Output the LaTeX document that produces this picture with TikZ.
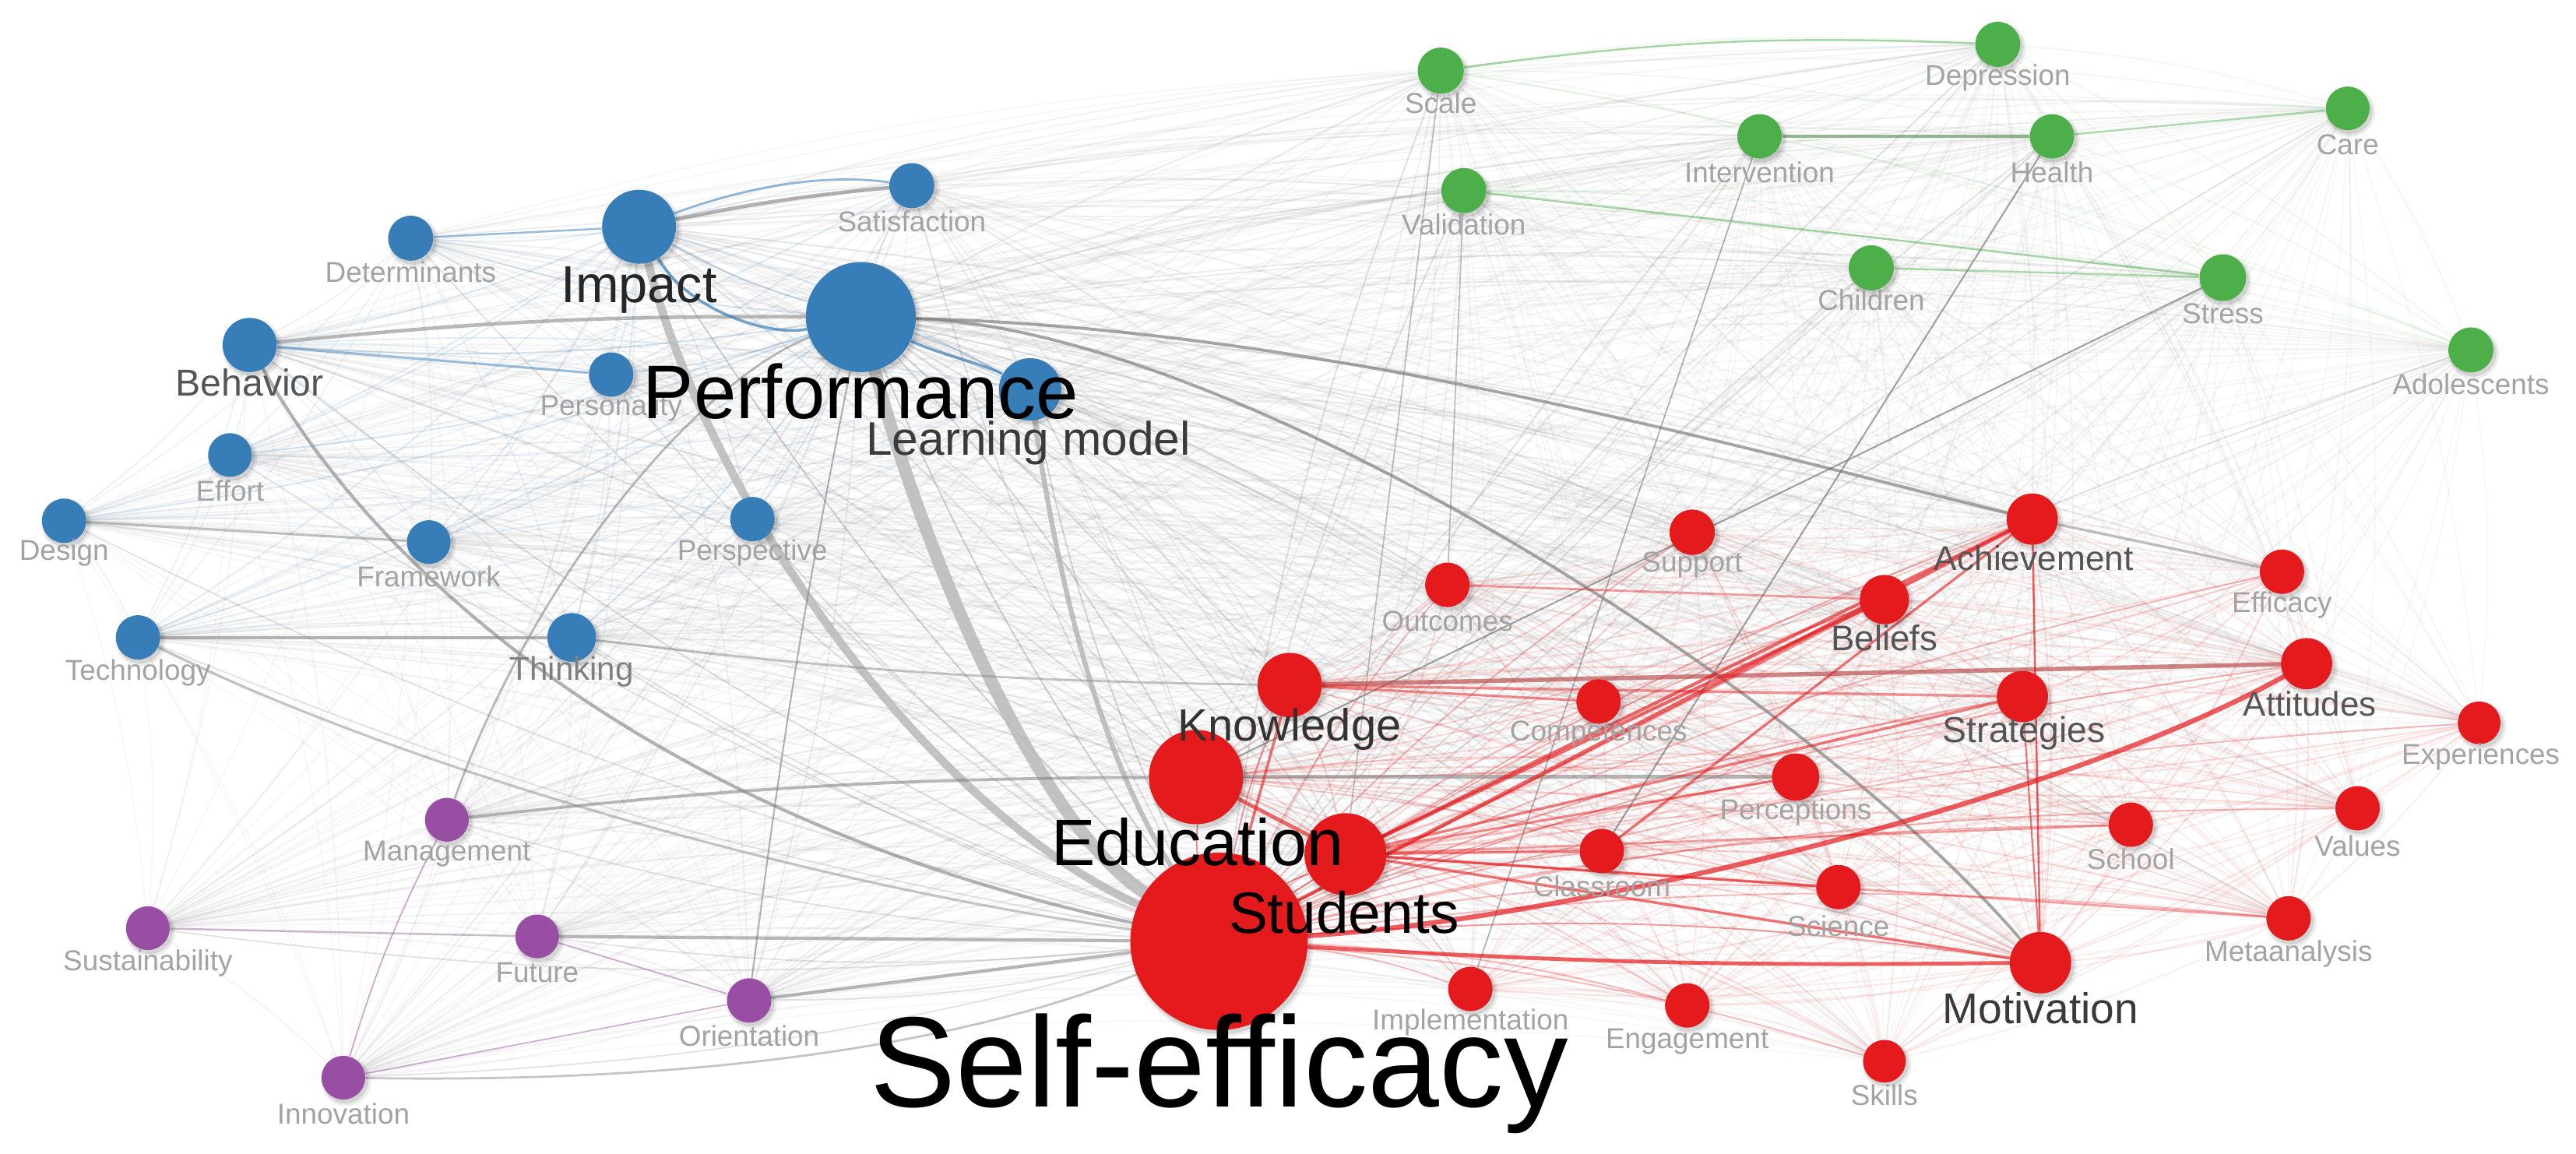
\documentclass[tikz,border=0pt]{standalone}
\usepackage{fontspec}
\setmainfont{Liberation Sans}
\definecolor{cl1}{HTML}{377EB8}
\definecolor{cl2}{HTML}{E41A1C}
\definecolor{cl3}{HTML}{4DAF4A}
\definecolor{cl4}{HTML}{984EA3}
\definecolor{edgegray}{HTML}{8C8C8C}
\definecolor{labgray}{HTML}{A3A3A3}
\definecolor{labmid}{HTML}{555555}
\definecolor{labdark}{HTML}{3A3A3A}
\pgfdeclarelayer{bg}
\pgfdeclarelayer{shadow}
\pgfsetlayers{bg,shadow,main}
\newcommand\kwnode[6]{%
  \node[kw={cl#6}{#5}] (#2) at (#3,#4) {};%
  \begin{pgfonlayer}{shadow}
    \fill[black,fill opacity=0.07] ([shift={(1.6,2.2)}]#2.center) circle[radius={(#5+1.8)*0.0210969cm}];
    \fill[black,fill opacity=0.10] ([shift={(1.3,1.8)}]#2.center) circle[radius={(#5+0.6)*0.0210969cm}];
  \end{pgfonlayer}%
  \expandafter\xdef\csname nn#1\endcsname{#2}%
  \expandafter\xdef\csname nr#1\endcsname{#5}%
  \expandafter\xdef\csname nc#1\endcsname{#6}}
\newcommand\kwlabel[6]{%
  \node[lab,font=\fontsize{#4}{#4}\selectfont,text=#5] (l-#1) at (#2,#3) {#6};}
\begin{document}
\begin{tikzpicture}[x=0.0210969cm,y=-0.0210969cm,
  kw/.style 2 args={circle,fill=#1,draw=none,inner sep=0pt,
    minimum size={2*#2*0.0210969cm}},
  lab/.style={anchor=base,inner sep=0pt},
  gline/.style={draw=gray,line cap=round},
  rline/.style={draw=cl2,line cap=round}]

\begin{pgfonlayer}{bg}
\fill[white] (0,0) rectangle (1568,702);
\end{pgfonlayer}
\useasboundingbox (0,0) rectangle (1568,702);

% ---------- nodes ----------
\kwnode{1}{selfeff}{742}{573}{54}{2}
\kwnode{2}{perf}{524}{193}{33.5}{1}
\kwnode{3}{impact}{389}{138}{22.5}{1}
\kwnode{4}{satis}{555}{113}{13.7}{1}
\kwnode{5}{determ}{250}{145}{13.7}{1}
\kwnode{6}{behav}{152}{210}{16.5}{1}
\kwnode{7}{person}{372}{228}{13.5}{1}
\kwnode{8}{learn}{627}{237}{19}{1}
\kwnode{9}{effort}{140}{277}{13.3}{1}
\kwnode{10}{design}{39}{317}{13.5}{1}
\kwnode{11}{frame}{261}{330}{13.3}{1}
\kwnode{12}{persp}{458}{316}{13.5}{1}
\kwnode{13}{techn}{84}{388}{13.5}{1}
\kwnode{14}{think}{348}{388}{14.8}{1}
\kwnode{15}{manag}{272}{499}{13.3}{4}
\kwnode{16}{sustain}{90}{565}{13.3}{4}
\kwnode{17}{future}{327}{570}{13.3}{4}
\kwnode{18}{orient}{456}{609}{13.5}{4}
\kwnode{19}{innov}{209}{656}{13.3}{4}
\kwnode{20}{scale}{877}{43}{14}{3}
\kwnode{21}{depress}{1216}{27}{13.7}{3}
\kwnode{22}{interv}{1071}{83}{13.5}{3}
\kwnode{23}{health}{1249}{83}{13.5}{3}
\kwnode{24}{care}{1429}{66}{13.3}{3}
\kwnode{25}{valid}{891}{116}{13.7}{3}
\kwnode{26}{children}{1139}{163}{13.7}{3}
\kwnode{27}{stress}{1353}{169}{14.2}{3}
\kwnode{28}{adoles}{1504}{213}{13.7}{3}
\kwnode{29}{achiev}{1237}{316}{15.6}{2}
\kwnode{30}{support}{1030}{324}{13.8}{2}
\kwnode{31}{outcom}{881}{356}{13.5}{2}
\kwnode{32}{beliefs}{1147}{365}{15}{2}
\kwnode{33}{efficacy}{1389}{348}{13.5}{2}
\kwnode{34}{knowl}{785}{417}{19.6}{2}
\kwnode{35}{compet}{973}{427}{13.5}{2}
\kwnode{36}{strat}{1231}{424}{15.6}{2}
\kwnode{37}{attit}{1404}{404}{15.6}{2}
\kwnode{38}{exper}{1509}{440}{13}{2}
\kwnode{39}{educ}{728}{473}{28.7}{2}
\kwnode{40}{percep}{1093}{473}{14.4}{2}
\kwnode{41}{students}{819}{520}{25}{2}
\kwnode{42}{classr}{975}{518}{13.5}{2}
\kwnode{43}{school}{1297}{502}{13.5}{2}
\kwnode{44}{values}{1435}{492}{13.5}{2}
\kwnode{45}{science}{1119}{540}{13.5}{2}
\kwnode{46}{meta}{1393}{559}{13.5}{2}
\kwnode{47}{motiv}{1242}{586}{18.7}{2}
\kwnode{48}{implem}{895}{602}{13.5}{2}
\kwnode{49}{engage}{1027}{612}{13.5}{2}
\kwnode{50}{skills}{1147}{646}{13}{2}

% ---------- faint co-occurrence links ----------
\begin{pgfonlayer}{bg}
\foreach \i in {1,...,49}{
  \pgfmathtruncatemacro\ii{\i+1}
  \foreach \j in {\ii,...,50}{
    \edef\na{\csname nn\i\endcsname}\edef\nb{\csname nn\j\endcsname}%
    \edef\ra{\csname nr\i\endcsname}\edef\rb{\csname nr\j\endcsname}%
    \edef\ca{\csname nc\i\endcsname}\edef\cb{\csname nc\j\endcsname}%
    \ifnum\ca=\cb\relax
      \pgfmathsetmacro\op{min(0.5,0.00042*\ra*\rb)}%
      \edef\ecol{cl\ca}%
    \else
      \pgfmathsetmacro\op{min(0.4,0.00034*\ra*\rb)}%
      \def\ecol{edgegray}%
    \fi
    \draw[line width=0.55pt,draw=\ecol,draw opacity=\op] (\na) to[bend left=6] (\nb);
  }}

% ---------- strong links ----------
\draw[gline,line width=4.6pt,draw=gray!55,draw opacity=0.85] (perf) .. controls (560,330) and (630,500) .. (selfeff);
\draw[gline,line width=3pt,draw=gray!55,draw opacity=0.85] (impact) .. controls (430,300) and (560,490) .. (selfeff);
\draw[gline,line width=1.8pt,draw=gray!60,draw opacity=0.8] (learn) .. controls (645,360) and (670,460) .. (selfeff);
\draw[gline,line width=1.2pt,draw opacity=0.6] (behav) .. controls (230,350) and (400,500) .. (selfeff);
\draw[gline,line width=0.9pt,draw opacity=0.45] (techn) .. controls (250,470) and (500,540) .. (selfeff);
\draw[gline,line width=1.3pt,draw opacity=0.55] (behav) to[bend left=3] (perf);
\draw[gline,line width=1.3pt,draw opacity=0.6] (impact) to[bend left=3] (satis);
\draw[gline,line width=1.1pt,draw opacity=0.7] (perf) .. controls (800,200) and (1050,270) .. (achiev);
\draw[gline,line width=1.1pt,draw opacity=0.7] (perf) .. controls (750,200) and (1100,420) .. (motiv);
\draw[gline,line width=1.1pt,draw opacity=0.6] (techn) -- (think);
\draw[gline,line width=0.8pt,draw opacity=0.45] (think) to[bend right=3] (knowl);
\draw[gline,line width=0.9pt,draw opacity=0.5] (design) -- (frame);
\draw[gline,line width=1.1pt,draw opacity=0.55] (manag) to[bend left=3] (educ);
\draw[gline,line width=1.2pt,draw opacity=0.55] (future) -- (selfeff);
\draw[gline,line width=1.2pt,draw opacity=0.55] (orient) -- (selfeff);
\draw[gline,line width=0.8pt,draw opacity=0.45] (innov) .. controls (450,660) and (600,630) .. (selfeff);
\draw[gline,line width=0.8pt,draw opacity=0.55] (manag) .. controls (330,340) and (430,230) .. (perf);
\draw[gline,line width=0.6pt,draw opacity=0.6] (orient) to[bend left=2] (perf);
\draw[gline,line width=0.6pt,draw=gray!80!black,draw opacity=0.6] (stress) -- (educ);
\draw[gline,line width=0.6pt,draw=gray!80!black,draw opacity=0.6] (health) -- (classr);
\draw[gline,line width=0.5pt,draw=gray!80!black,draw opacity=0.5] (interv) -- (implem);
\draw[gline,line width=0.5pt,draw opacity=0.5] (scale) -- (students);
\draw[gline,line width=0.5pt,draw opacity=0.5] (valid) -- (outcom);
\draw[gline,line width=1.4pt,draw opacity=0.55] (educ) -- (percep);
\draw[gline,line width=0.9pt,draw opacity=0.5] (achiev) -- (efficacy);
% red cluster
\draw[rline,line width=1.6pt,draw=cl2!55!gray,draw opacity=0.65] (knowl) -- (attit);
\draw[rline,line width=1pt,draw opacity=0.45] (knowl) -- (strat);
\draw[rline,line width=0.9pt,draw opacity=0.5] (knowl) -- (compet);
\draw[rline,line width=1.8pt,draw opacity=0.7] (selfeff) .. controls (950,560) and (1250,490) .. (attit);
\draw[rline,line width=1.3pt,draw opacity=0.65] (selfeff) -- (achiev);
\draw[rline,line width=1.2pt,draw opacity=0.65] (students) -- (achiev);
\draw[rline,line width=1.2pt,draw opacity=0.65] (students) -- (beliefs);
\draw[rline,line width=1.4pt,draw opacity=0.7] (selfeff) to[bend right=2] (motiv);
\draw[rline,line width=1pt,draw opacity=0.6] (students) -- (motiv);
\draw[rline,line width=1pt,draw opacity=0.55] (students) -- (strat);
\draw[rline,line width=0.9pt,draw opacity=0.55] (students) -- (classr);
\draw[rline,line width=0.9pt,draw opacity=0.55] (students) -- (science);
\draw[rline,line width=0.9pt,draw opacity=0.5] (students) -- (percep);
\draw[rline,line width=0.8pt,draw opacity=0.5] (selfeff) -- (beliefs);
\draw[rline,line width=0.7pt,draw opacity=0.7] (achiev) -- (motiv);
\draw[rline,line width=0.6pt,draw opacity=0.6] (strat) -- (motiv);
\draw[rline,line width=0.9pt,draw opacity=0.6] (classr) -- (achiev);
\draw[rline,line width=1pt,draw opacity=0.6] (knowl) -- (selfeff);
\draw[rline,line width=1.4pt,draw opacity=0.65] (educ) -- (students);
\draw[rline,line width=0.8pt,draw opacity=0.4] (outcom) -- (beliefs);
\draw[rline,line width=0.8pt,draw opacity=0.4] (students) -- (school);
\draw[rline,line width=0.8pt,draw opacity=0.4] (students) -- (meta);
% blue cluster
\draw[line width=1pt,draw=cl1,draw opacity=0.7] (impact) .. controls (420,190) and (470,205) .. (perf);
\draw[line width=1pt,draw=cl1,draw opacity=0.7] (perf) .. controls (570,215) and (600,222) .. (learn);
\draw[line width=0.8pt,draw=cl1,draw opacity=0.55] (impact) .. controls (450,115) and (500,105) .. (satis);
\draw[line width=0.7pt,draw=cl1,draw opacity=0.5] (determ) -- (impact);
\draw[line width=0.9pt,draw=cl1,draw opacity=0.5] (behav) -- (person);
% green cluster
\draw[line width=1pt,draw=cl3!55!gray,draw opacity=0.7] (interv) -- (health);
\draw[line width=0.7pt,draw=cl3,draw opacity=0.5] (scale) to[bend left=5] (depress);
\draw[line width=0.7pt,draw=cl3,draw opacity=0.5] (valid) -- (stress);
\draw[line width=0.7pt,draw=cl3,draw opacity=0.45] (children) -- (stress);
\draw[line width=0.7pt,draw=cl3,draw opacity=0.45] (health) -- (care);
% purple cluster
\draw[line width=0.5pt,draw=cl4,draw opacity=0.5] (manag) to[bend right=5] (innov);
\draw[line width=0.5pt,draw=cl4,draw opacity=0.5] (future) -- (orient);
\draw[line width=0.5pt,draw=cl4,draw opacity=0.45] (innov) -- (orient);
\draw[line width=0.7pt,draw=cl4!50!gray,draw opacity=0.45] (sustain) -- (future);
\end{pgfonlayer}

% ---------- labels ----------
\kwlabel{satis}{555}{141}{10.5}{labgray}{Satisfaction}
\kwlabel{determ}{250}{172}{10.5}{labgray}{Determinants}
\kwlabel{person}{372}{253}{10.5}{labgray}{Personality}
\kwlabel{effort}{140}{305}{10.5}{labgray}{Effort}
\kwlabel{design}{39}{341}{10.5}{labgray}{Design}
\kwlabel{frame}{261}{357}{10.5}{labgray}{Framework}
\kwlabel{persp}{458}{341}{10.5}{labgray}{Perspective}
\kwlabel{techn}{84}{414}{10.5}{labgray}{Technology}
\kwlabel{think}{348}{414}{12}{gray}{Thinking}
\kwlabel{behav}{152}{241}{13.7}{labmid}{Behavior}
\kwlabel{learn}{626}{277}{17.2}{labdark}{Learning model}
\kwlabel{impact}{389}{184}{19}{black!85}{Impact}
\kwlabel{manag}{272}{524}{10.5}{labgray}{Management}
\kwlabel{sustain}{90}{591}{10.5}{labgray}{Sustainability}
\kwlabel{future}{327}{598}{10.5}{labgray}{Future}
\kwlabel{orient}{456}{637}{10.5}{labgray}{Orientation}
\kwlabel{innov}{209}{684}{10.5}{labgray}{Innovation}
\kwlabel{scale}{877}{69}{10.5}{labgray}{Scale}
\kwlabel{depress}{1216}{52}{10.5}{labgray}{Depression}
\kwlabel{interv}{1071}{111}{10.5}{labgray}{Intervention}
\kwlabel{health}{1249}{111}{10.5}{labgray}{Health}
\kwlabel{care}{1429}{94}{10.5}{labgray}{Care}
\kwlabel{valid}{891}{143}{10.5}{labgray}{Validation}
\kwlabel{children}{1139}{189}{10.5}{labgray}{Children}
\kwlabel{stress}{1353}{197}{10.5}{labgray}{Stress}
\kwlabel{adoles}{1504}{240}{10.5}{labgray}{Adolescents}
\kwlabel{achiev}{1238}{347}{12.6}{labmid}{Achievement}
\kwlabel{support}{1030}{348}{10.5}{labgray}{Support}
\kwlabel{outcom}{881}{384}{10.5}{labgray}{Outcomes}
\kwlabel{beliefs}{1147}{396}{13}{labmid}{Beliefs}
\kwlabel{efficacy}{1389}{373}{10.5}{labgray}{Efficacy}
\kwlabel{compet}{973}{451}{10.5}{labgray}{Competences}
\kwlabel{strat}{1232}{452}{13.2}{labmid}{Strategies}
\kwlabel{attit}{1406}{436}{12.5}{labmid}{Attitudes}
\kwlabel{exper}{1510}{465}{10.5}{labgray}{Experiences}
\kwlabel{percep}{1093}{499}{10.5}{labgray}{Perceptions}
\kwlabel{classr}{975}{546}{10.5}{labgray}{Classroom}
\kwlabel{school}{1297}{529}{10.5}{labgray}{School}
\kwlabel{values}{1435}{521}{10.5}{labgray}{Values}
\kwlabel{science}{1119}{570}{10.5}{labgray}{Science}
\kwlabel{meta}{1393}{585}{10.5}{labgray}{Metaanalysis}
\kwlabel{implem}{895}{627}{10.5}{labgray}{Implementation}
\kwlabel{engage}{1027}{638}{10.5}{labgray}{Engagement}
\kwlabel{skills}{1147}{673}{10.5}{labgray}{Skills}
\kwlabel{motiv}{1242}{623}{15.7}{labdark}{Motivation}
\kwlabel{knowl}{785}{451}{16.5}{black!80}{Knowledge}
\kwlabel{educ}{729}{527}{24}{black}{Education}
\kwlabel{students}{818}{568}{21.3}{black}{Students}
\kwlabel{perf}{524}{255}{27.8}{black}{Performance}
\kwlabel{selfeff}{742}{674}{47}{black}{Self-efficacy}
\end{tikzpicture}
\end{document}
